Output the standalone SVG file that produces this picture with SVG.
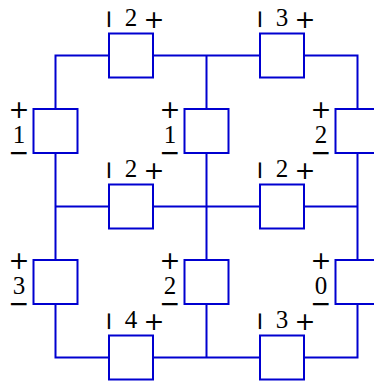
<svg xmlns="http://www.w3.org/2000/svg" width="374" height="381" viewBox="0 0 374 381">
<style>
.w{fill:none;stroke:#0000d0;stroke-width:2;stroke-linejoin:miter}
.b{fill:#fff;stroke:#0000d0;stroke-width:2}
.d{font-family:"Liberation Serif","Times New Roman",serif;font-size:25px;fill:#000;text-anchor:middle}
.s{font-family:"DejaVu Sans",sans-serif;font-size:25px;fill:#000;text-anchor:middle}
</style>
<rect width="374" height="381" fill="#fff"/>
<g id="connectors">
<path class="w" d="M55.5 55.5H357.5V357.5H55.5Z M55.5 206.5H357.5 M206.5 55.5V357.5"/>
</g>
<g id="h1"><rect class="b" x="109" y="33.5" width="44" height="44"/><text class="s" transform="translate(108.5,19.5) rotate(90)" y="7.75">−</text><text class="d" x="131" y="26">2</text><text class="s" x="154" y="27.75">+</text></g>
<g id="h2"><rect class="b" x="260" y="33.5" width="44" height="44"/><text class="s" transform="translate(259.5,19.5) rotate(90)" y="7.75">−</text><text class="d" x="282" y="26">3</text><text class="s" x="305" y="27.75">+</text></g>
<g id="h3"><rect class="b" x="109" y="184.5" width="44" height="44"/><text class="s" transform="translate(108.5,170.5) rotate(90)" y="7.75">−</text><text class="d" x="131" y="177">2</text><text class="s" x="154" y="178.75">+</text></g>
<g id="h4"><rect class="b" x="260" y="184.5" width="44" height="44"/><text class="s" transform="translate(259.5,170.5) rotate(90)" y="7.75">−</text><text class="d" x="282" y="177">2</text><text class="s" x="305" y="178.75">+</text></g>
<g id="h5"><rect class="b" x="109" y="335.5" width="44" height="44"/><text class="s" transform="translate(108.5,321.5) rotate(90)" y="7.75">−</text><text class="d" x="131" y="328">4</text><text class="s" x="154" y="329.75">+</text></g>
<g id="h6"><rect class="b" x="260" y="335.5" width="44" height="44"/><text class="s" transform="translate(259.5,321.5) rotate(90)" y="7.75">−</text><text class="d" x="282" y="328">3</text><text class="s" x="305" y="329.75">+</text></g>
<g id="v1"><rect class="b" x="33.5" y="109" width="44" height="44"/><text class="s" x="19" y="117.75">+</text><text class="d" x="19" y="142.5">1</text><text class="s" x="19" y="161.25">−</text></g>
<g id="v2"><rect class="b" x="184.5" y="109" width="44" height="44"/><text class="s" x="170" y="117.75">+</text><text class="d" x="170" y="142.5">1</text><text class="s" x="170" y="161.25">−</text></g>
<g id="v3"><rect class="b" x="335.5" y="109" width="44" height="44"/><text class="s" x="321" y="117.75">+</text><text class="d" x="321" y="142.5">2</text><text class="s" x="321" y="161.25">−</text></g>
<g id="v4"><rect class="b" x="33.5" y="260" width="44" height="44"/><text class="s" x="19" y="268.75">+</text><text class="d" x="19" y="293.5">3</text><text class="s" x="19" y="312.25">−</text></g>
<g id="v5"><rect class="b" x="184.5" y="260" width="44" height="44"/><text class="s" x="170" y="268.75">+</text><text class="d" x="170" y="293.5">2</text><text class="s" x="170" y="312.25">−</text></g>
<g id="v6"><rect class="b" x="335.5" y="260" width="44" height="44"/><text class="s" x="321" y="268.75">+</text><text class="d" x="321" y="293.5">0</text><text class="s" x="321" y="312.25">−</text></g>
</svg>
